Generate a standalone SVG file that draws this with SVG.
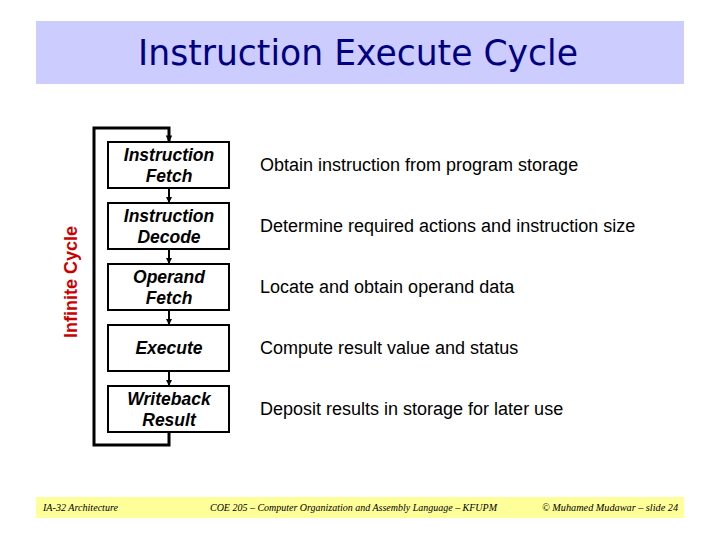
<svg xmlns="http://www.w3.org/2000/svg" width="720" height="540" viewBox="0 0 720 540">
<style>
.box{fill:#fff;stroke:#000;stroke-width:2}
.lbl{font-family:"Liberation Sans",Arial,sans-serif;font-size:17.5px;font-weight:bold;font-style:italic;text-anchor:middle;fill:#000}
.desc{font-family:"Liberation Sans",Arial,sans-serif;font-size:18px;fill:#000}
.foot{font-family:"Liberation Serif","Times New Roman",serif;font-style:italic;font-size:11px;fill:#000}
.conn{fill:none;stroke:#000;stroke-width:2}
.loop{fill:none;stroke:#000;stroke-width:3}
</style>
<defs>
<marker id="ah" viewBox="0 0 10 10" refX="10" refY="5" markerWidth="3" markerHeight="3" orient="auto" markerUnits="strokeWidth">
<path d="M0,0 L10,5 L0,10 z" fill="#000"/>
</marker>
<marker id="ah2" viewBox="0 0 10 10" refX="10" refY="5" markerWidth="2.2" markerHeight="2.2" orient="auto" markerUnits="strokeWidth">
<path d="M0,0 L10,5 L0,10 z" fill="#000"/>
</marker>
</defs>
<rect id="title-band" x="36" y="21" width="648" height="63" fill="#ccccff"/>
<text id="title" x="358" y="65" text-anchor="middle" textLength="440" lengthAdjust="spacingAndGlyphs" style="font-family:'Comic Sans MS','DejaVu Sans',sans-serif;font-size:36px;fill:#000080">Instruction Execute Cycle</text>

<text id="cycle-label" transform="translate(77,282) rotate(-90)" text-anchor="middle" style="font-family:'Liberation Sans',Arial,sans-serif;font-size:18px;font-weight:bold;fill:#cc0000">Infinite Cycle</text>

<g id="connectors">
<line class="conn" x1="169" y1="188" x2="169" y2="203" marker-end="url(#ah)"/>
<line class="conn" x1="169" y1="249" x2="169" y2="264" marker-end="url(#ah)"/>
<line class="conn" x1="169" y1="310" x2="169" y2="325" marker-end="url(#ah)"/>
<line class="conn" x1="169" y1="371" x2="169" y2="386" marker-end="url(#ah)"/>
<path class="loop" d="M169,432 V445 H94 V128 H169 V142" marker-end="url(#ah2)"/>
</g>

<g id="fetch">
<rect class="box" x="108" y="142" width="121" height="46"/>
<text class="lbl" x="169" y="161">Instruction</text>
<text class="lbl" x="169" y="182">Fetch</text>
<text class="desc" x="260" y="171">Obtain instruction from program storage</text>
</g>
<g id="decode">
<rect class="box" x="108" y="203" width="121" height="46"/>
<text class="lbl" x="169" y="222">Instruction</text>
<text class="lbl" x="169" y="243">Decode</text>
<text class="desc" x="260" y="232">Determine required actions and instruction size</text>
</g>
<g id="operand">
<rect class="box" x="108" y="264" width="121" height="46"/>
<text class="lbl" x="169" y="283">Operand</text>
<text class="lbl" x="169" y="304">Fetch</text>
<text class="desc" x="260" y="293">Locate and obtain operand data</text>
</g>
<g id="execute">
<rect class="box" x="108" y="325" width="121" height="46"/>
<text class="lbl" x="169" y="354">Execute</text>
<text class="desc" x="260" y="354">Compute result value and status</text>
</g>
<g id="writeback">
<rect class="box" x="108" y="386" width="121" height="46"/>
<text class="lbl" x="169" y="405">Writeback</text>
<text class="lbl" x="169" y="426">Result</text>
<text class="desc" x="260" y="415">Deposit results in storage for later use</text>
</g>

<rect id="footer-band" x="36" y="497" width="648" height="21" fill="#ffff99"/>
<text class="foot" x="43" y="511" textLength="75" lengthAdjust="spacingAndGlyphs">IA-32 Architecture</text>
<text class="foot" x="210" y="511" textLength="287" lengthAdjust="spacingAndGlyphs">COE 205 – Computer Organization and Assembly Language – KFUPM</text>
<text class="foot" x="542" y="511" textLength="136" lengthAdjust="spacingAndGlyphs">© Muhamed Mudawar – slide 24</text>
</svg>
